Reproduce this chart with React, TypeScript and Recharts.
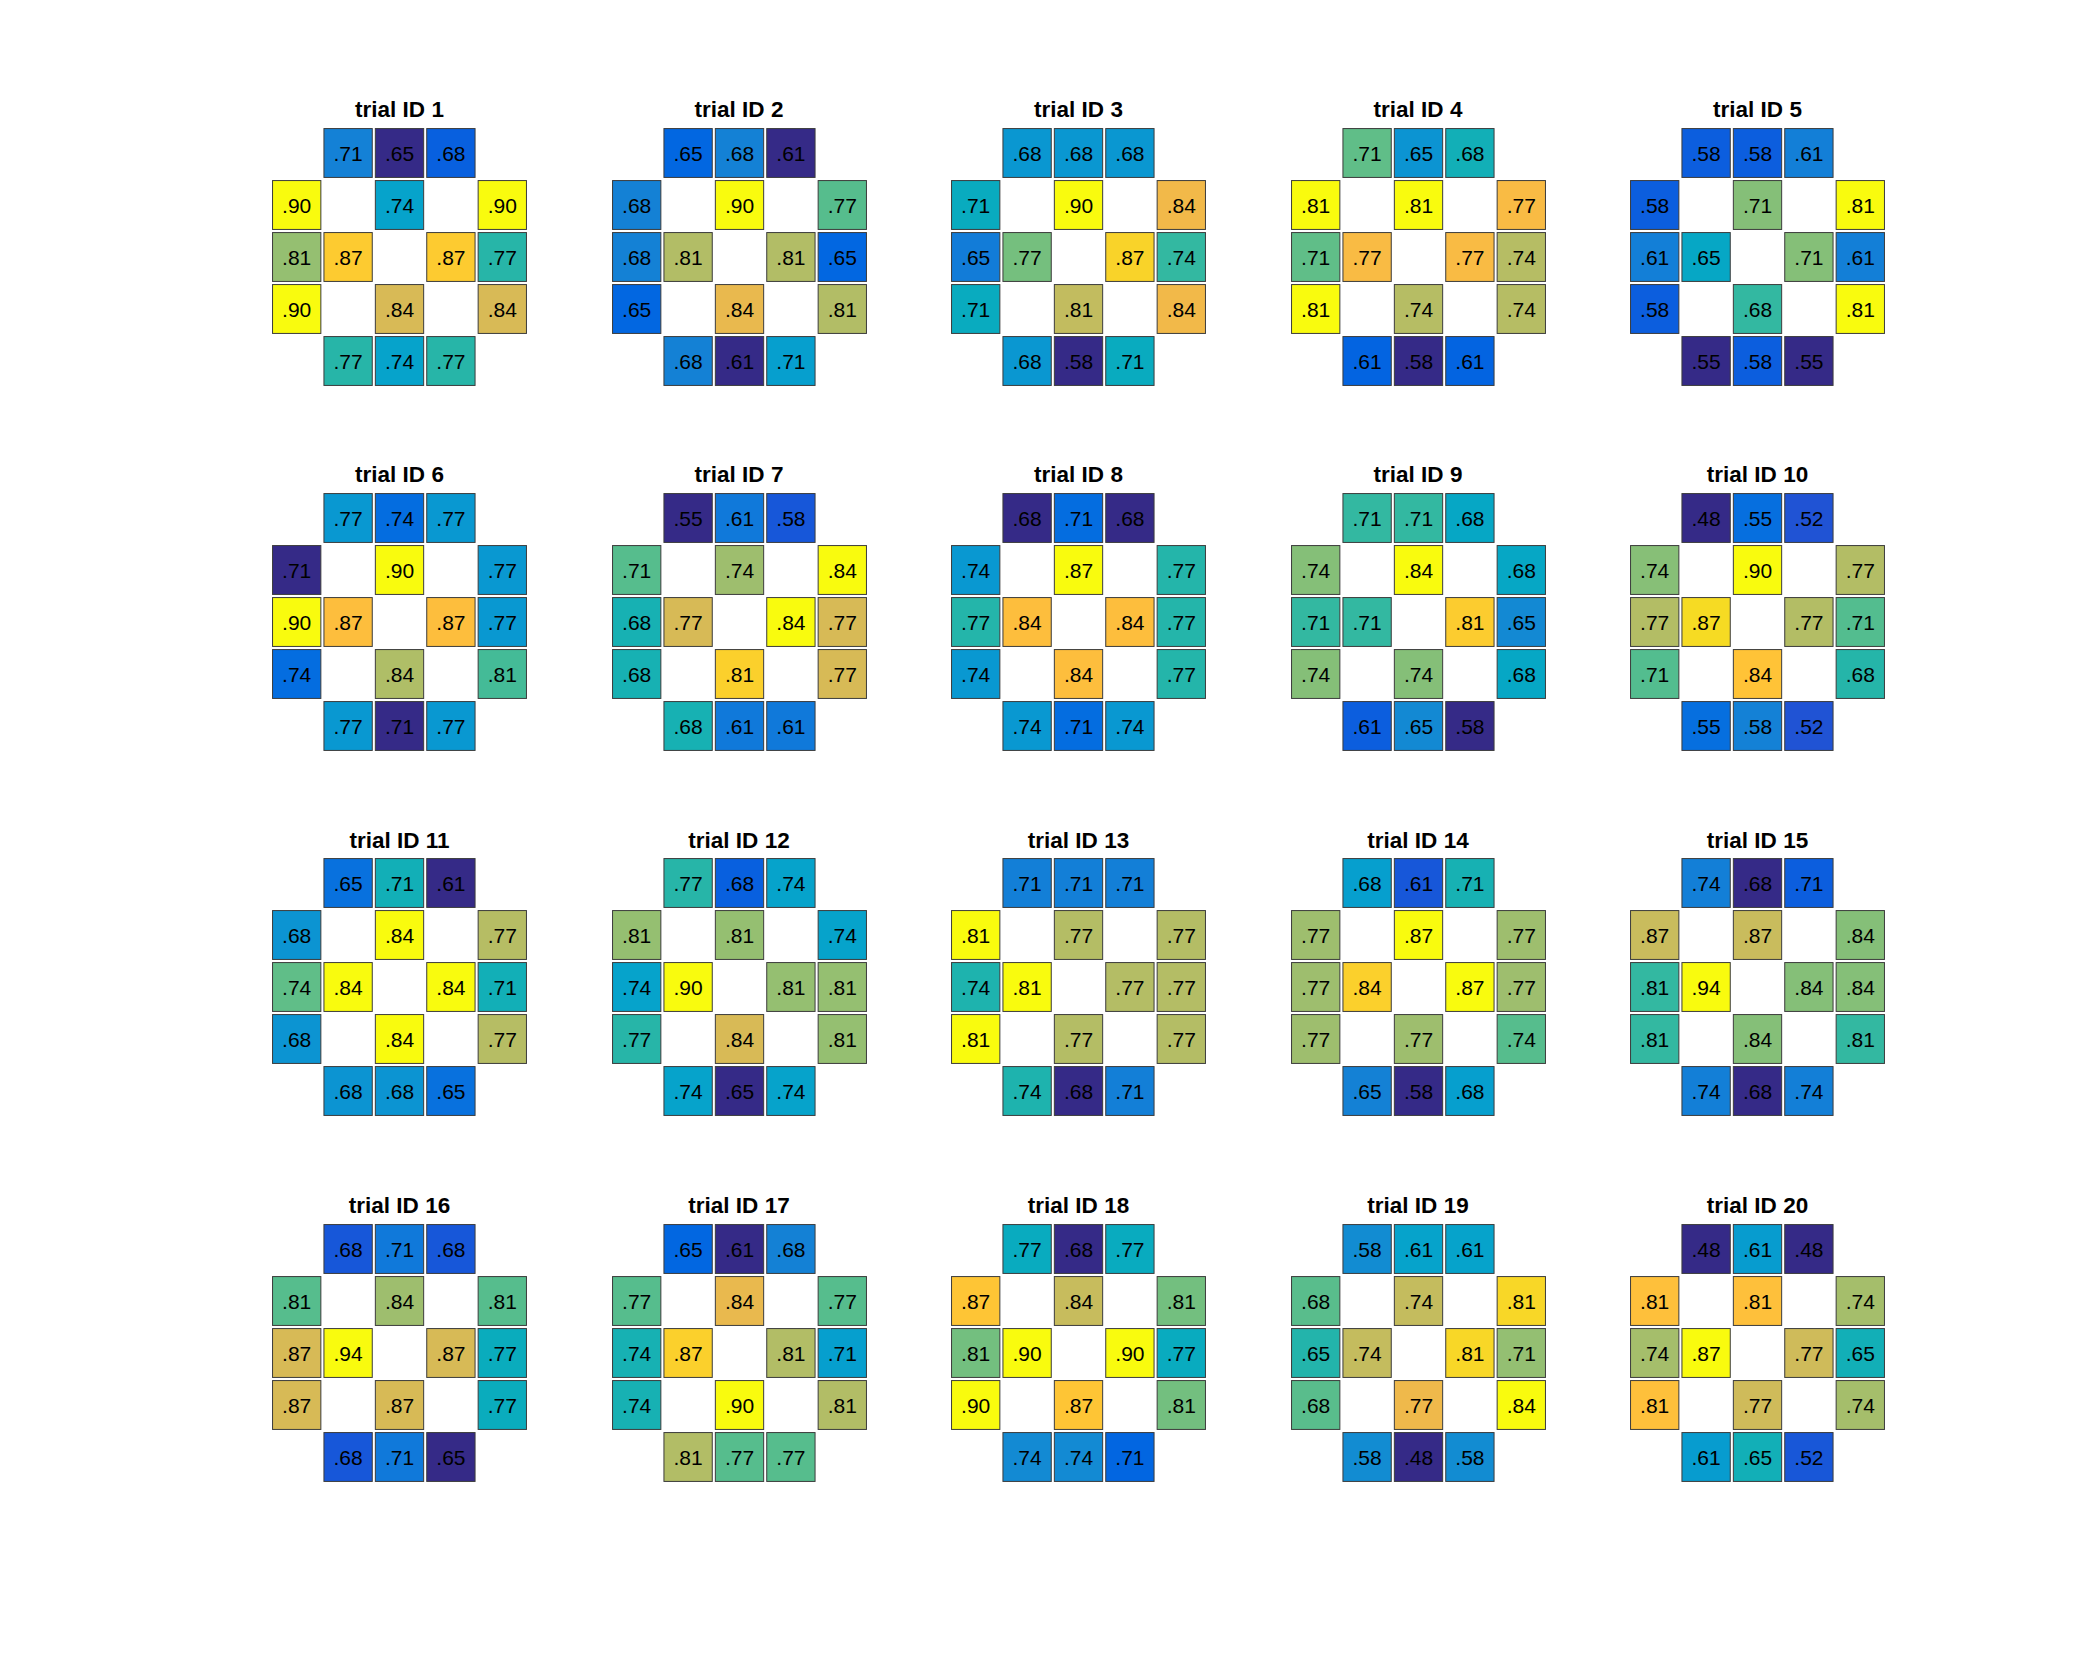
import { Scatter, ScatterChart, XAxis, YAxis } from "recharts";

// cell layout of the 5x5 grid, row 0 at the top
const cellRows = [0, 0, 0, 1, 1, 1, 2, 2, 2, 2, 3, 3, 3, 4, 4, 4];
const cellCols = [1, 2, 3, 0, 2, 4, 0, 1, 3, 4, 0, 2, 4, 1, 2, 3];

// values per trial, in the cell order above
const t1 = [0.71, 0.65, 0.68, 0.9, 0.74, 0.9, 0.81, 0.87, 0.87, 0.77, 0.9, 0.84, 0.84, 0.77, 0.74, 0.77];
const t2 = [0.65, 0.68, 0.61, 0.68, 0.9, 0.77, 0.68, 0.81, 0.81, 0.65, 0.65, 0.84, 0.81, 0.68, 0.61, 0.71];
const t3 = [0.68, 0.68, 0.68, 0.71, 0.9, 0.84, 0.65, 0.77, 0.87, 0.74, 0.71, 0.81, 0.84, 0.68, 0.58, 0.71];
const t4 = [0.71, 0.65, 0.68, 0.81, 0.81, 0.77, 0.71, 0.77, 0.77, 0.74, 0.81, 0.74, 0.74, 0.61, 0.58, 0.61];
const t5 = [0.58, 0.58, 0.61, 0.58, 0.71, 0.81, 0.61, 0.65, 0.71, 0.61, 0.58, 0.68, 0.81, 0.55, 0.58, 0.55];
const t6 = [0.77, 0.74, 0.77, 0.71, 0.9, 0.77, 0.9, 0.87, 0.87, 0.77, 0.74, 0.84, 0.81, 0.77, 0.71, 0.77];
const t7 = [0.55, 0.61, 0.58, 0.71, 0.74, 0.84, 0.68, 0.77, 0.84, 0.77, 0.68, 0.81, 0.77, 0.68, 0.61, 0.61];
const t8 = [0.68, 0.71, 0.68, 0.74, 0.87, 0.77, 0.77, 0.84, 0.84, 0.77, 0.74, 0.84, 0.77, 0.74, 0.71, 0.74];
const t9 = [0.71, 0.71, 0.68, 0.74, 0.84, 0.68, 0.71, 0.71, 0.81, 0.65, 0.74, 0.74, 0.68, 0.61, 0.65, 0.58];
const t10 = [0.48, 0.55, 0.52, 0.74, 0.9, 0.77, 0.77, 0.87, 0.77, 0.71, 0.71, 0.84, 0.68, 0.55, 0.58, 0.52];
const t11 = [0.65, 0.71, 0.61, 0.68, 0.84, 0.77, 0.74, 0.84, 0.84, 0.71, 0.68, 0.84, 0.77, 0.68, 0.68, 0.65];
const t12 = [0.77, 0.68, 0.74, 0.81, 0.81, 0.74, 0.74, 0.9, 0.81, 0.81, 0.77, 0.84, 0.81, 0.74, 0.65, 0.74];
const t13 = [0.71, 0.71, 0.71, 0.81, 0.77, 0.77, 0.74, 0.81, 0.77, 0.77, 0.81, 0.77, 0.77, 0.74, 0.68, 0.71];
const t14 = [0.68, 0.61, 0.71, 0.77, 0.87, 0.77, 0.77, 0.84, 0.87, 0.77, 0.77, 0.77, 0.74, 0.65, 0.58, 0.68];
const t15 = [0.74, 0.68, 0.71, 0.87, 0.87, 0.84, 0.81, 0.94, 0.84, 0.84, 0.81, 0.84, 0.81, 0.74, 0.68, 0.74];
const t16 = [0.68, 0.71, 0.68, 0.81, 0.84, 0.81, 0.87, 0.94, 0.87, 0.77, 0.87, 0.87, 0.77, 0.68, 0.71, 0.65];
const t17 = [0.65, 0.61, 0.68, 0.77, 0.84, 0.77, 0.74, 0.87, 0.81, 0.71, 0.74, 0.9, 0.81, 0.81, 0.77, 0.77];
const t18 = [0.77, 0.68, 0.77, 0.87, 0.84, 0.81, 0.81, 0.9, 0.9, 0.77, 0.9, 0.87, 0.81, 0.74, 0.74, 0.71];
const t19 = [0.58, 0.61, 0.61, 0.68, 0.74, 0.81, 0.65, 0.74, 0.81, 0.71, 0.68, 0.77, 0.84, 0.58, 0.48, 0.58];
const t20 = [0.48, 0.61, 0.48, 0.81, 0.81, 0.74, 0.74, 0.87, 0.77, 0.65, 0.81, 0.77, 0.74, 0.61, 0.65, 0.52];

const trials = [t1, t2, t3, t4, t5, t6, t7, t8, t9, t10, t11, t12, t13, t14, t15, t16, t17, t18, t19, t20];

// parula, 64 entries
const parula = [
  [0.2081, 0.1663, 0.5292], [0.2116, 0.1898, 0.5777], [0.2123, 0.2138, 0.627], [0.2081, 0.2386, 0.6771],
  [0.1959, 0.2645, 0.7279], [0.1707, 0.2919, 0.7792], [0.1253, 0.3242, 0.8303], [0.0591, 0.3598, 0.8683],
  [0.0117, 0.3875, 0.882], [0.006, 0.4086, 0.8828], [0.0165, 0.4266, 0.8786], [0.0329, 0.443, 0.872],
  [0.0498, 0.4586, 0.8641], [0.0629, 0.4737, 0.8554], [0.0723, 0.4887, 0.8467], [0.0779, 0.504, 0.8384],
  [0.0793, 0.52, 0.8312], [0.0749, 0.5375, 0.8263], [0.0641, 0.557, 0.824], [0.0488, 0.5772, 0.8228],
  [0.0343, 0.5966, 0.8199], [0.0265, 0.6137, 0.8135], [0.0239, 0.6287, 0.8038], [0.0231, 0.6418, 0.7913],
  [0.0228, 0.6535, 0.7768], [0.0267, 0.6642, 0.7607], [0.0384, 0.6743, 0.7436], [0.059, 0.6838, 0.7254],
  [0.0843, 0.6928, 0.7062], [0.1133, 0.7015, 0.6859], [0.1453, 0.7098, 0.6646], [0.1801, 0.7177, 0.6424],
  [0.2178, 0.725, 0.6193], [0.2586, 0.7317, 0.5954], [0.3022, 0.7376, 0.5712], [0.3482, 0.7424, 0.5473],
  [0.3953, 0.7459, 0.5244], [0.442, 0.7481, 0.5033], [0.4871, 0.7491, 0.484], [0.53, 0.7491, 0.4661],
  [0.5709, 0.7485, 0.4494], [0.6099, 0.7473, 0.4337], [0.6473, 0.7456, 0.4188], [0.6834, 0.7435, 0.4044],
  [0.7184, 0.7411, 0.3905], [0.7525, 0.7384, 0.3768], [0.7858, 0.7356, 0.3633], [0.8185, 0.7327, 0.3498],
  [0.8507, 0.7299, 0.336], [0.8824, 0.7274, 0.3217], [0.9139, 0.7258, 0.3063], [0.945, 0.7261, 0.2886],
  [0.9739, 0.7314, 0.2666], [0.9938, 0.7455, 0.2403], [0.999, 0.7653, 0.2164], [0.9955, 0.7861, 0.1967],
  [0.988, 0.8066, 0.1794], [0.9789, 0.8271, 0.1633], [0.9697, 0.8481, 0.1475], [0.9626, 0.8705, 0.1309],
  [0.9589, 0.8949, 0.1132], [0.9598, 0.9218, 0.0948], [0.9661, 0.9514, 0.0755], [0.9763, 0.9831, 0.0538]
];

const colorAt = (t: number) => {
  const p = Math.max(0, Math.min(1, t)) * (parula.length - 1);
  const i = Math.min(parula.length - 2, Math.floor(p));
  const f = p - i;
  const c = parula[i].map((a, k) => Math.round((a + (parula[i + 1][k] - a) * f) * 255));
  return `rgb(${c[0]},${c[1]},${c[2]})`;
};

const PANEL_W = 257;
const PANEL_H = 260;
const COL_PITCH = 339.5;
const ROW_PITCH = 365.3;
const LEFT0 = 271;
const TOP0 = 126.7;
const CELL_FRAC = 0.94;
const CELL_FONT = 21;
const FONT = '"Liberation Sans", Arial, Helvetica, sans-serif';

const fmt = (v: number) => v.toFixed(2).replace(/^0/, "");

const CellShape = (props: any) => {
  const { cx, cy, payload } = props;
  const w = (PANEL_W / 5) * CELL_FRAC;
  const h = (PANEL_H / 5) * CELL_FRAC;
  return (
    <g>
      <rect x={cx - w / 2} y={cy - h / 2} width={w} height={h} fill={payload.color} stroke="#3c3c3c" strokeWidth={1} />
      <text x={cx} y={cy + CELL_FONT * 0.36} textAnchor="middle" fontSize={CELL_FONT} fontFamily={FONT} fill="#000">
        {fmt(payload.v)}
      </text>
    </g>
  );
};

const Panel = ({ idx }: { idx: number }) => {
  const values = trials[idx];
  const lo = Math.min(...values);
  const hi = Math.max(...values);
  const data = values.map((v, i) => ({
    x: cellCols[i] + 0.5,
    y: cellRows[i] + 0.5,
    v,
    color: colorAt((v - lo) / (hi - lo))
  }));
  const left = LEFT0 + COL_PITCH * (idx % 5);
  const top = TOP0 + ROW_PITCH * Math.floor(idx / 5);

  return (
    <>
      <div
        style={{
          position: "absolute",
          left,
          top: top - 27.6,
          width: PANEL_W,
          textAlign: "center",
          fontFamily: FONT,
          fontWeight: "bold",
          fontSize: 22.5,
          lineHeight: "22px",
          color: "#000"
        }}
      >
        trial ID {idx + 1}
      </div>
      <div style={{ position: "absolute", left, top }}>
        <ScatterChart width={PANEL_W} height={PANEL_H} margin={{ top: 0, right: 0, bottom: 0, left: 0 }}>
          <XAxis type="number" dataKey="x" domain={[0, 5]} hide />
          <YAxis type="number" dataKey="y" domain={[0, 5]} reversed hide />
          <Scatter data={data} shape={CellShape} isAnimationActive={false} />
        </ScatterChart>
      </div>
    </>
  );
};

export default function App() {
  return (
    <div style={{ position: "absolute", left: 0, top: 0, width: 2083, height: 1667, background: "#fff" }}>
      {trials.map((_, i) => (
        <Panel key={i} idx={i} />
      ))}
    </div>
  );
}
